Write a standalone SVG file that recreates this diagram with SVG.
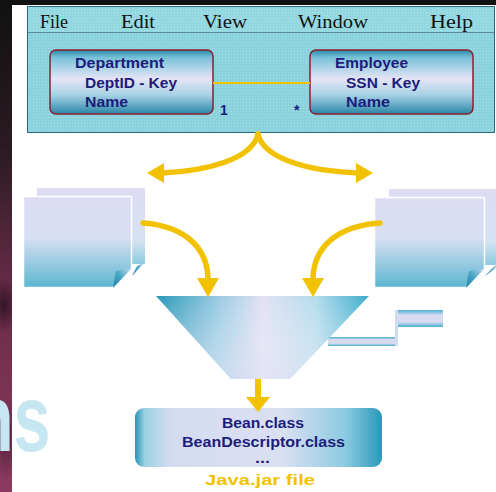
<svg xmlns="http://www.w3.org/2000/svg" width="496" height="492" viewBox="0 0 496 492">
  <defs>
    <style>
      .menu { font-family: "Liberation Serif", "Times New Roman", serif; font-size: 18px; fill: #111; }
      .lbl { font-family: "Liberation Sans", Arial, sans-serif; font-weight: bold; font-size: 14px; fill: #1c1c7c; }
      .jarname { font-family: "Liberation Sans", Arial, sans-serif; font-weight: bold; font-size: 14px; fill: #f2c200; }
      .ybold { fill: none; stroke: #f2c200; stroke-linecap: round; }
      .yhead { fill: #f2c200; }
      .entity { stroke: #8a1f30; stroke-width: 1.5; fill: url(#entityFill); }
      .page { fill: url(#pageFill); stroke: #ffffff; stroke-width: 1.5; }
      .pageBack { fill: url(#pageBackFill); }
      .curl { fill: url(#curlFill); }
    </style>
    <linearGradient id="strip" x1="0" y1="0" x2="0" y2="1">
      <stop offset="0" stop-color="#111111"/>
      <stop offset="0.3" stop-color="#2a1b22"/>
      <stop offset="0.6" stop-color="#6a2c48"/>
      <stop offset="1" stop-color="#8c3a60"/>
    </linearGradient>
    <radialGradient id="blob" cx="0.5" cy="0.5" r="0.5">
      <stop offset="0" stop-color="#2a1020" stop-opacity="0.85"/>
      <stop offset="1" stop-color="#2a1020" stop-opacity="0"/>
    </radialGradient>
    <linearGradient id="entityFill" x1="0" y1="0" x2="0" y2="1">
      <stop offset="0" stop-color="#2a88a8"/>
      <stop offset="0.12" stop-color="#78c2d8"/>
      <stop offset="0.45" stop-color="#e6e4f6"/>
      <stop offset="0.7" stop-color="#a8d2e6"/>
      <stop offset="1" stop-color="#2a86a8"/>
    </linearGradient>
    <linearGradient id="pageFill" x1="0" y1="0" x2="0" y2="1">
      <stop offset="0" stop-color="#dcdcf2"/>
      <stop offset="0.45" stop-color="#d8dff2"/>
      <stop offset="1" stop-color="#5cb6d0"/>
    </linearGradient>
    <linearGradient id="pageBackFill" x1="0" y1="0" x2="0" y2="1">
      <stop offset="0" stop-color="#dedcf2"/>
      <stop offset="0.7" stop-color="#d4e2f2"/>
      <stop offset="1" stop-color="#8ccbe0"/>
    </linearGradient>
    <linearGradient id="curlFill" x1="0" y1="1" x2="1" y2="0">
      <stop offset="0" stop-color="#1f7ea4"/>
      <stop offset="0.5" stop-color="#4aa8c8"/>
      <stop offset="1" stop-color="#d8dcf2"/>
    </linearGradient>
    <linearGradient id="funnelFill" x1="0" y1="0" x2="1" y2="0">
      <stop offset="0" stop-color="#2a98b8"/>
      <stop offset="0.3" stop-color="#9ccce4"/>
      <stop offset="0.5" stop-color="#e2e0f4"/>
      <stop offset="0.75" stop-color="#b4dcec"/>
      <stop offset="1" stop-color="#3aaccb"/>
    </linearGradient>
    <linearGradient id="funnelShade" x1="0" y1="0" x2="0" y2="1">
      <stop offset="0" stop-color="#ffffff" stop-opacity="0"/>
      <stop offset="1" stop-color="#e6e4f6" stop-opacity="0.6"/>
    </linearGradient>
    <linearGradient id="jarFill" x1="0" y1="0" x2="1" y2="0">
      <stop offset="0" stop-color="#2a94b6"/>
      <stop offset="0.04" stop-color="#9cd2e4"/>
      <stop offset="0.15" stop-color="#d6dcf0"/>
      <stop offset="0.6" stop-color="#dadff2"/>
      <stop offset="0.85" stop-color="#8ccbe0"/>
      <stop offset="1" stop-color="#2a98ba"/>
    </linearGradient>
    <linearGradient id="tubeFill" x1="0" y1="0" x2="0" y2="1">
      <stop offset="0" stop-color="#4ab0cc"/>
      <stop offset="0.3" stop-color="#d8dcf2"/>
      <stop offset="0.7" stop-color="#d8dcf2"/>
      <stop offset="1" stop-color="#4ab0cc"/>
    </linearGradient>
    <pattern id="dither" width="3" height="3" patternUnits="userSpaceOnUse">
      <rect x="0" y="0" width="1" height="1" fill="#ffffff" fill-opacity="0.25"/>
    </pattern>
  </defs>

  <!-- backdrop -->
  <rect x="0" y="0" width="496" height="492" fill="#111111"/>
  <rect x="0" y="0" width="12" height="492" fill="url(#strip)"/>
  <ellipse cx="4" cy="305" rx="14" ry="28" fill="url(#blob)"/>
  <ellipse cx="6" cy="440" rx="14" ry="40" fill="url(#blob)" opacity="0.6"/>
  <rect x="12" y="5" width="484" height="487" fill="#ffffff"/>
  <text x="0" y="451" transform="translate(-27 0) scale(0.7 1)" font-family="Liberation Sans, Arial, sans-serif" font-weight="bold" font-size="95" fill="#c6e7f1">ns</text>

  <!-- application window -->
  <g id="window">
    <rect x="27.5" y="6.5" width="467" height="126" fill="#8ad3dc" stroke="#2a6a80" stroke-width="1"/>
    <rect x="28" y="7" width="466" height="25" fill="#93d8e0"/>
    <line x1="28" y1="32.5" x2="494" y2="32.5" stroke="#5a8aa0" stroke-width="1"/>
    <rect x="28" y="7" width="466" height="125" fill="url(#dither)"/>
    <text class="menu" x="40" y="28" textLength="28" lengthAdjust="spacingAndGlyphs">File</text>
    <text class="menu" x="121" y="28" textLength="34" lengthAdjust="spacingAndGlyphs">Edit</text>
    <text class="menu" x="203" y="28" textLength="44" lengthAdjust="spacingAndGlyphs">View</text>
    <text class="menu" x="298" y="28" textLength="70" lengthAdjust="spacingAndGlyphs">Window</text>
    <text class="menu" x="430" y="28" textLength="43" lengthAdjust="spacingAndGlyphs">Help</text>
  </g>

  <g id="department">
    <rect class="entity" x="50" y="50" width="163" height="64" rx="6"/>
    <text class="lbl" x="75" y="68" textLength="89" lengthAdjust="spacingAndGlyphs">Department</text>
    <text class="lbl" x="85" y="88" textLength="92" lengthAdjust="spacingAndGlyphs">DeptID - Key</text>
    <text class="lbl" x="85" y="107" textLength="43" lengthAdjust="spacingAndGlyphs">Name</text>
  </g>

  <g id="employee">
    <rect class="entity" x="310" y="50" width="163" height="64" rx="6"/>
    <text class="lbl" x="335" y="68" textLength="73" lengthAdjust="spacingAndGlyphs">Employee</text>
    <text class="lbl" x="346" y="88" textLength="74" lengthAdjust="spacingAndGlyphs">SSN - Key</text>
    <text class="lbl" x="346" y="107" textLength="44" lengthAdjust="spacingAndGlyphs">Name</text>
  </g>

  <g id="files-left">
    <rect class="pageBack" x="37" y="188" width="108" height="76"/>
    <polygon class="curl" points="132,276 145,262 137,266"/>
    <polygon class="page" points="23.5,196.5 131.5,196.5 131.5,269 113,287.5 23.5,287.5"/>
    <polygon class="curl" points="113,288 132,268 116,271"/>
  </g>

  <g id="files-right">
    <rect class="pageBack" x="389" y="189" width="107" height="76"/>
    <polygon class="page" points="374.5,197.5 484.5,197.5 484.5,269 466,287.5 374.5,287.5"/>
    <polygon class="curl" points="466,288 485,268 469,271"/>
    <polygon class="curl" points="485,276 496,264 496,268"/>
  </g>

  <g id="funnel">
    <rect x="328" y="337" width="70" height="9" fill="url(#tubeFill)"/>
    <rect x="395" y="310" width="3" height="36" fill="#d0dcf0"/>
    <rect x="398" y="310" width="45" height="17" fill="url(#tubeFill)"/>
    <polygon points="156,296 369,296 290,379 231,379" fill="url(#funnelFill)"/>
    <polygon points="156,296 369,296 290,379 231,379" fill="url(#funnelShade)"/>
  </g>

  <g id="jar">
    <rect x="135" y="408" width="247" height="59" rx="9" fill="url(#jarFill)"/>
    <text class="lbl" x="222" y="428" textLength="82" lengthAdjust="spacingAndGlyphs">Bean.class</text>
    <text class="lbl" x="182" y="447" textLength="163" lengthAdjust="spacingAndGlyphs">BeanDescriptor.class</text>
    <text class="lbl" x="255" y="463" font-size="12" textLength="15" lengthAdjust="spacingAndGlyphs">...</text>
    <text class="jarname" x="205" y="485" textLength="110" lengthAdjust="spacingAndGlyphs">Java.jar file</text>
  </g>

  <g id="connectors">
    <!-- one-to-many relation -->
    <line x1="213" y1="83" x2="310" y2="83" stroke="#f2c200" stroke-width="2"/>
    <text class="lbl" x="220" y="115">1</text>
    <text class="lbl" x="294" y="115" font-size="12">*</text>
    <!-- split toward the two file stacks -->
    <path class="ybold" stroke-width="5.5" d="M258,134 C252,160 205,171 162,173"/>
    <path class="ybold" stroke-width="5.5" d="M258,134 C264,160 311,171 358,173"/>
    <polygon class="yhead" points="147,173 164,163 164,183"/>
    <polygon class="yhead" points="373,173 356,163 356,183"/>
    <!-- file stacks into the funnel -->
    <path class="ybold" stroke-width="5.5" d="M143,223 C185,226 208,248 208,280"/>
    <path class="ybold" stroke-width="5.5" d="M380,223 C336,226 313,248 313,280"/>
    <polygon class="yhead" points="197,278 219,278 208,297"/>
    <polygon class="yhead" points="302,278 324,278 313,297"/>
    <!-- funnel output -->
    <rect x="255" y="379" width="6" height="20" fill="#f2c200"/>
    <polygon class="yhead" points="246,397 270,397 258,412"/>
  </g>
</svg>
